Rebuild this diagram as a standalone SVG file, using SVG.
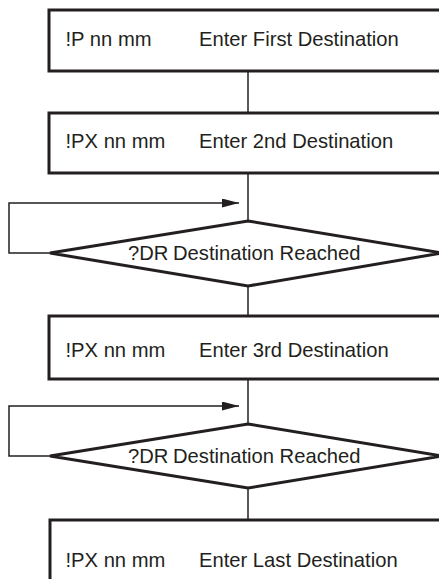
<svg xmlns="http://www.w3.org/2000/svg" width="439" height="579" viewBox="0 0 439 579">
<style>
.box{fill:#fff;stroke:#231f20;stroke-width:3}
.con{fill:none;stroke:#231f20;stroke-width:1.5}
.t{font-family:"Liberation Sans",Arial,sans-serif;font-size:20.2px;fill:#231f20}
</style>
<defs>
<marker id="arr" markerWidth="17" markerHeight="9" refX="17" refY="4.5" orient="auto" markerUnits="userSpaceOnUse">
<path d="M0,0 L17,4.5 L0,9 Z" fill="#231f20"/>
</marker>
</defs>
<rect width="439" height="579" fill="#fff"/>
<g id="connectors">
<line class="con" x1="248" y1="71" x2="248" y2="113"/>
<line class="con" x1="248" y1="173" x2="248" y2="221"/>
<line class="con" x1="248" y1="286" x2="248" y2="316"/>
<line class="con" x1="248" y1="379" x2="248" y2="424"/>
<line class="con" x1="248" y1="488" x2="248" y2="520"/>
<polyline class="con" points="50,253 9,253 9,203 239,203" marker-end="url(#arr)"/>
<polyline class="con" points="50,456 9,456 9,406 239,406" marker-end="url(#arr)"/>
</g>
<g id="n1">
<rect class="box" x="49" y="10" width="400" height="61"/>
<text class="t" x="65.5" y="46">!P nn mm</text>
<text class="t" x="199" y="46">Enter First Destination</text>
</g>
<g id="n2">
<rect class="box" x="49" y="113" width="400" height="60"/>
<text class="t" x="65.5" y="148">!PX nn mm</text>
<text class="t" x="199" y="148">Enter 2nd Destination</text>
</g>
<g id="n3">
<polygon class="box" points="248,221 442,253 248,286 50,253"/>
<text class="t" x="128" y="260">?DR</text>
<text class="t" x="173" y="260">Destination Reached</text>
</g>
<g id="n4">
<rect class="box" x="49" y="316" width="400" height="63"/>
<text class="t" x="65.5" y="357">!PX nn mm</text>
<text class="t" x="199" y="357">Enter 3rd Destination</text>
</g>
<g id="n5">
<polygon class="box" points="248,424 442,456 248,488 50,456"/>
<text class="t" x="128" y="463">?DR</text>
<text class="t" x="173" y="463">Destination Reached</text>
</g>
<g id="n6">
<rect class="box" x="50" y="520" width="400" height="80"/>
<text class="t" x="65.5" y="567">!PX nn mm</text>
<text class="t" x="199" y="567">Enter Last Destination</text>
</g>
</svg>
